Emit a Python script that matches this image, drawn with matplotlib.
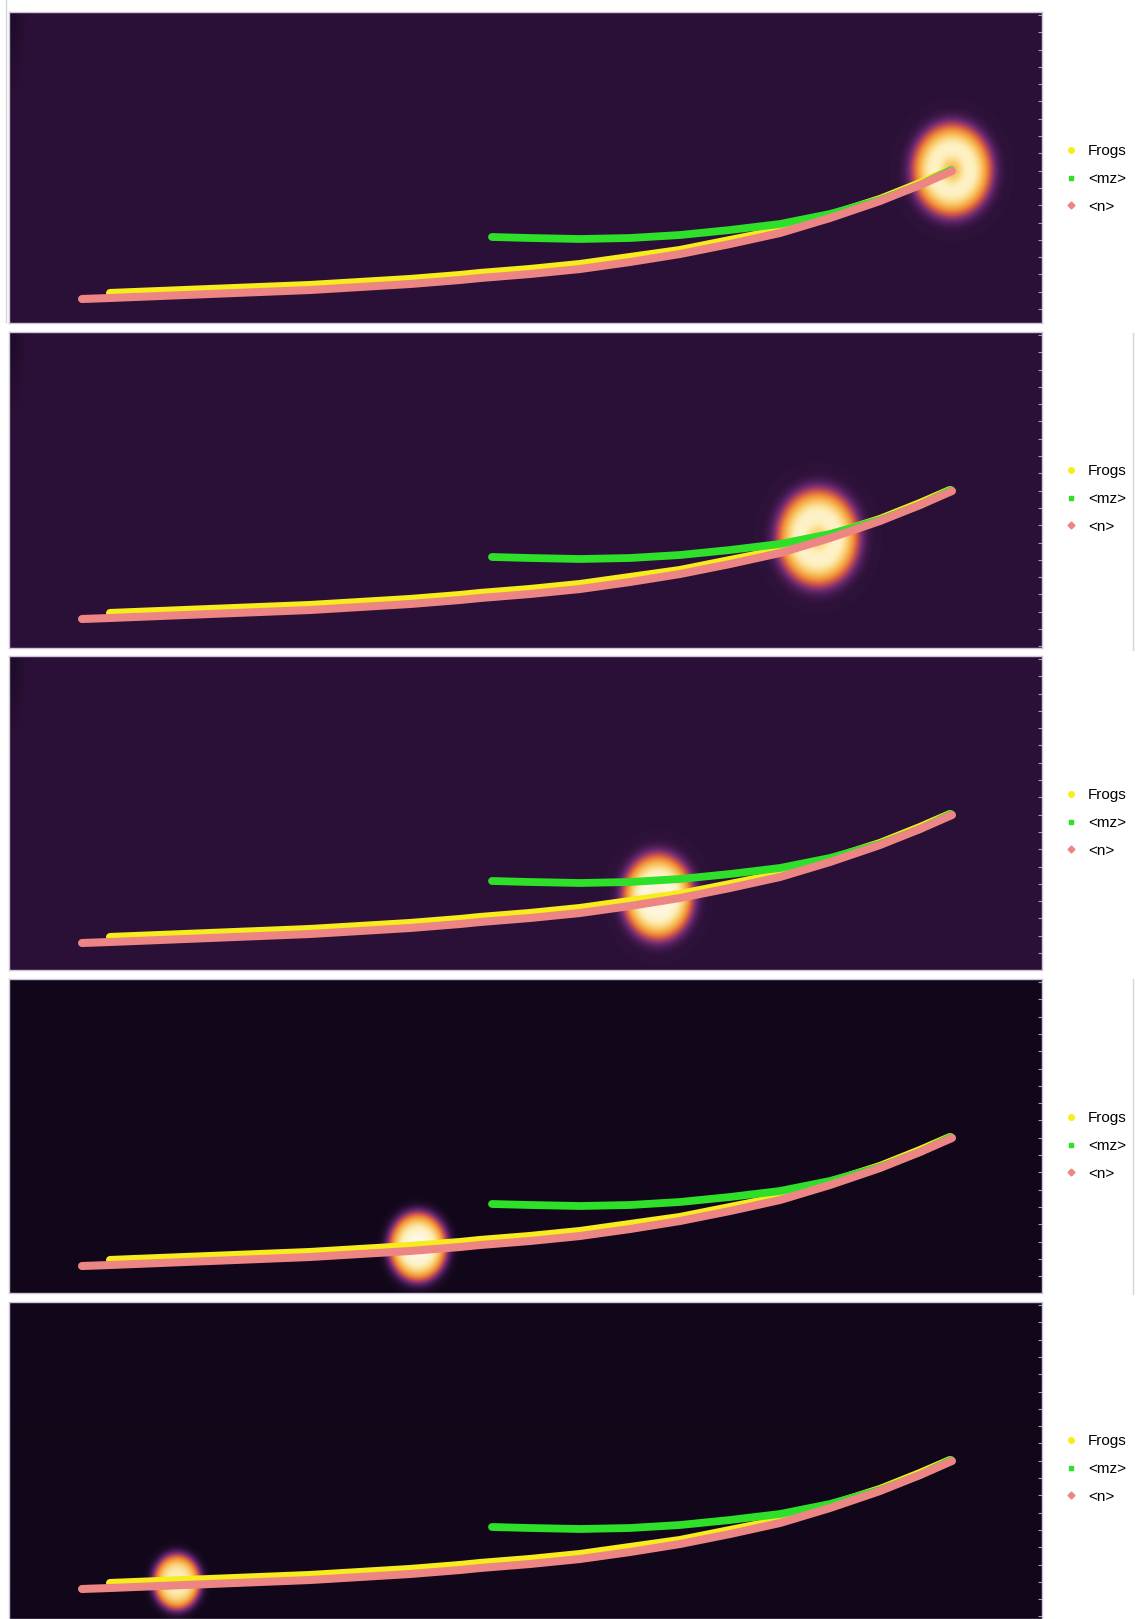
import numpy as np
import matplotlib.pyplot as plt
from matplotlib.colors import LinearSegmentedColormap
from matplotlib.lines import Line2D

plt.rcParams['font.family'] = ['Liberation Sans', 'DejaVu Sans']

W, H = 1137, 1619

# curves, in pixel units inside one panel (origin at top-left)
frogs_x = [101, 151, 201, 251, 301, 351, 401, 451, 471, 521, 571, 621, 671, 721, 771, 821, 871, 911, 941]
frogs_y = [281, 279, 277, 275, 273, 270, 267, 263, 261, 257, 252, 245, 238, 228, 218, 203, 187, 171, 158]
mz_x = [483, 521, 571, 621, 671, 721, 771, 821, 871, 911, 942]
mz_y = [225, 226, 227, 226, 223, 218, 212, 202, 188, 173, 158]
n_x = [73, 101, 151, 201, 251, 301, 351, 401, 451, 471, 521, 571, 621, 671, 721, 771, 821, 871, 911, 943]
n_y = [287, 286, 284, 282, 280, 278, 275, 272, 268, 266, 262, 257, 250, 242, 232, 221, 206, 189, 173, 159]

labels = ['Frogs', '<mz>', '<n>']
colors = ['#f7ec1c', '#2ee02a', '#ee8585']

# the glowing blob in each frame
blob_x = [943, 809, 649, 409, 168]
blob_y = [158, 206, 241, 268, 280]
blob_rx = [37, 38, 33, 28, 23]
blob_ry = [43, 45, 40, 33, 27]
blob_hole = [0.4, 0.33, 0.12, 0.0, 0.0]
blob_peak = [1.0, 1.0, 1.0, 0.96, 0.86]
bg_level = [0.07, 0.07, 0.07, 0.0, 0.0]

# frame placement in the screenshot (pixels)
panel_top = [12, 332, 656, 979, 1302]
panel_h = [311, 316, 314, 314, 317]
panel_left, panel_w = 9, 1033

glow = LinearSegmentedColormap.from_list('glow', [
    (0.00, (18/255, 7/255, 26/255)),
    (0.07, (44/255, 17/255, 56/255)),
    (0.20, (105/255, 40/255, 112/255)),
    (0.35, (200/255, 80/255, 80/255)),
    (0.50, (240/255, 142/255, 55/255)),
    (0.68, (249/255, 196/255, 98/255)),
    (0.85, (253/255, 236/255, 178/255)),
    (1.00, (255/255, 252/255, 244/255)),
])

fig = plt.figure(figsize=(W / 100, H / 100), dpi=100)

for i in range(5):
    top, h = panel_top[i], panel_h[i]
    ax = fig.add_axes([panel_left / W, 1 - (top + h) / H, panel_w / W, h / H])

    yy, xx = np.mgrid[0:h, 0:panel_w] + 0.5
    r = np.sqrt(((xx - blob_x[i]) / blob_rx[i]) ** 2 + ((yy - blob_y[i]) / blob_ry[i]) ** 2)
    field = np.exp(-r ** 4) - blob_hole[i] * np.exp(-(r / 0.35) ** 2)
    img = bg_level[i] + (blob_peak[i] - bg_level[i]) * field
    # darker corner at the top left of each frame
    img = img - 0.04 * np.exp(-(xx / 12) ** 2 - (yy / 60) ** 2)
    img = np.clip(img, 0, 1)
    ax.imshow(img, cmap=glow, vmin=0, vmax=1, extent=(0, panel_w, h, 0),
              aspect='auto', interpolation='bilinear')

    ax.plot(frogs_x, frogs_y, color=colors[0], lw=5.8, solid_capstyle='round', solid_joinstyle='round')
    ax.plot(mz_x, mz_y, color=colors[1], lw=5.6, solid_capstyle='round', solid_joinstyle='round')
    ax.plot(n_x, n_y, color=colors[2], lw=5.8, solid_capstyle='round', solid_joinstyle='round')

    ax.set_xlim(0, panel_w)
    ax.set_ylim(h, 0)
    ax.set_xticks([])
    ax.yaxis.tick_right()
    ax.set_yticks(np.arange(3, h, 17.3))
    ax.tick_params(axis='y', direction='in', length=3, width=0.8, color='#a89cb5', labelright=False)
    for s in ax.spines.values():
        s.set_color('#cfc6da')
        s.set_linewidth(1)

    handles = [Line2D([], [], ls='', marker='o', ms=4, color=colors[0]),
               Line2D([], [], ls='', marker='s', ms=3.5, color=colors[1]),
               Line2D([], [], ls='', marker='D', ms=3.5, color=colors[2])]
    ax.legend(handles, labels, loc='center left', bbox_to_anchor=(1050 / W, 1 - (top + 167) / H),
              bbox_transform=fig.transFigure, frameon=False, fontsize=11,
              handlelength=1.0, handletextpad=0.6, labelspacing=0.9)

# window borders from the screenshot
fig.add_artist(Line2D([6 / W, 6 / W], [1, 1 - 322 / H], color='#d6d6d6', lw=1))
fig.add_artist(Line2D([1133 / W, 1133 / W], [1 - 333 / H, 1 - 650 / H], color='#d6d6d6', lw=1))
fig.add_artist(Line2D([1133 / W, 1133 / W], [1 - 979 / H, 1 - 1294 / H], color='#d6d6d6', lw=1))

fig.savefig('out.png', dpi=100)
